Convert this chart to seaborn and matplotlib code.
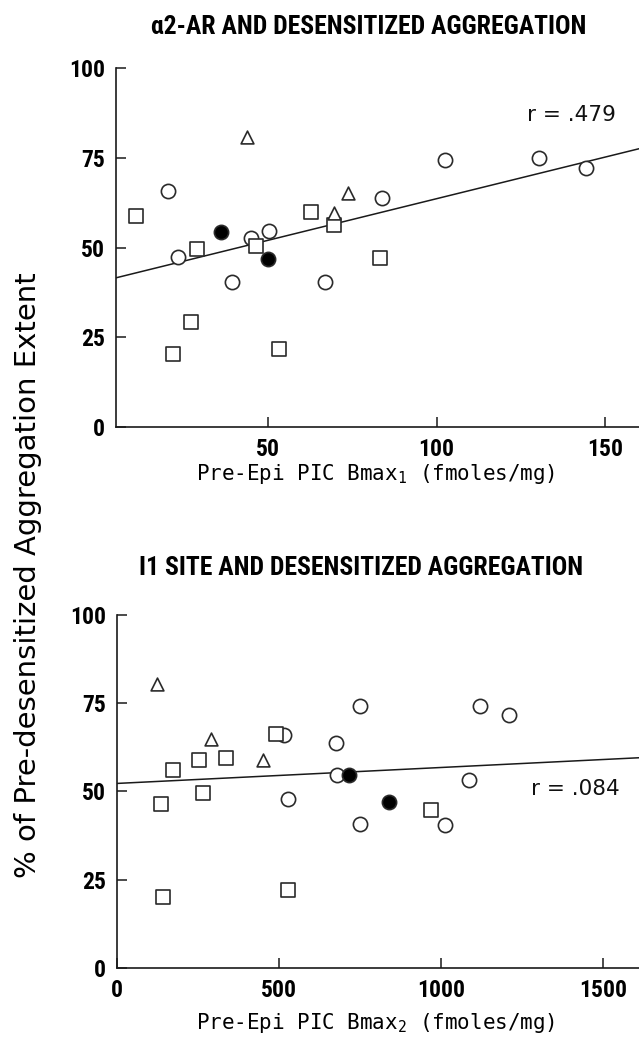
import numpy as np
import pandas as pd
import matplotlib
matplotlib.use("Agg")
import matplotlib.pyplot as plt
import seaborn as sns

# ── data ──────────────────────────────────────────────────────────────────────

# top panel: alpha2-AR Bmax1 (fmoles/mg) vs % aggregation
top_circle_x = [20.3, 23.5, 39.3, 44.9, 50.3, 67.0, 83.8, 102.4, 130.3, 144.3]
top_circle_y = [65.8, 47.5, 40.3, 52.6, 54.7, 40.3, 63.7, 74.4, 74.9, 72.1]
top_square_x = [10.8, 21.8, 27.3, 29.1, 46.6, 53.2, 62.7, 69.6, 83.2]
top_square_y = [58.9, 20.3, 29.2, 49.5, 50.3, 21.8, 59.9, 56.3, 47.2]
top_triangle_x = [43.9, 73.7, 69.6]
top_triangle_y = [80.8, 65.2, 59.6]
top_filled_x = [36.2, 50.1]
top_filled_y = [54.4, 46.9]
top_fit = (40.4, 0.232)   # intercept, slope
top_r = ".479"

# bottom panel: I1 site Bmax2 (fmoles/mg) vs % aggregation
bot_circle_x = [515.8, 526.4, 674.2, 679.5, 748.2, 748.2, 1010, 1084, 1117.8, 1209.6]
bot_circle_y = [66.1, 47.8, 63.6, 54.7, 74.3, 40.7, 40.5, 53.2, 74.3, 71.8]
bot_square_x = [135.7, 141, 172.6, 251.8, 264.5, 334.2, 489.4, 526.4, 967.8]
bot_square_y = [46.4, 20.0, 56.1, 58.9, 49.5, 59.5, 66.4, 21.9, 44.7]
bot_triangle_x = [122, 288.8, 449.3]
bot_triangle_y = [80.4, 64.9, 59.0]
bot_filled_x = [714.4, 837.9]
bot_filled_y = [54.7, 47.0]
bot_fit = (52.26, 0.00452)
bot_r = ".084"

y_ticks = [0, 25, 50, 75, 100]

# ── style ─────────────────────────────────────────────────────────────────────

sns.set_style("ticks")
plt.rcParams["font.family"] = ["DejaVu Sans"]
plt.rcParams["mathtext.default"] = "regular"
for key in ["text.color", "axes.labelcolor", "xtick.color", "ytick.color"]:
    plt.rcParams[key] = "black"

NARROW = ["Roboto Condensed", "DejaVu Sans"]
MONO = ["DejaVu Sans Mono", "DejaVu Sans"]
EDGE = "#2a2a2a"

fig = plt.figure(figsize=(6.39, 10.37), dpi=100)
ax_top = fig.add_axes([0.1815, 0.5882, 0.8185, 0.3462])
ax_bot = fig.add_axes([0.1836, 0.0668, 0.8164, 0.3401])


def make_frame(cx, cy, sx, sy, tx, ty, fx, fy):
    parts = [
        pd.DataFrame({"x": cx, "y": cy, "group": "circle"}),
        pd.DataFrame({"x": sx, "y": sy, "group": "square"}),
        pd.DataFrame({"x": tx, "y": ty, "group": "triangle"}),
        pd.DataFrame({"x": fx, "y": fy, "group": "filled"}),
    ]
    return pd.concat(parts, ignore_index=True)


group_style = {
    "circle":   dict(marker="o", color="white", s=105),
    "square":   dict(marker="s", color="white", s=95),
    "triangle": dict(marker="^", color="white", s=85),
    "filled":   dict(marker="o", color="black", s=105),
}


def draw_panel(ax, df, fit, r_text, xlim, xticks, r_pos):
    a, b = fit
    xs = np.array(xlim, dtype=float)
    sns.lineplot(x=xs, y=a + b * xs, ax=ax, color="#1a1a1a", lw=1.1, zorder=1)
    for name, st in group_style.items():
        sub = df[df["group"] == name]
        sns.scatterplot(data=sub, x="x", y="y", ax=ax, marker=st["marker"],
                        color=st["color"], edgecolor=EDGE, linewidth=1.2,
                        s=st["s"], zorder=3, legend=False)
    ax.set_xlim(*xlim)
    ax.set_ylim(0, 100)
    ax.set_xticks(xticks)
    ax.set_yticks(y_ticks)
    ax.set_xlabel("")
    ax.set_ylabel("")
    sns.despine(ax=ax)
    for side in ["left", "bottom"]:
        ax.spines[side].set_linewidth(1.2)
        ax.spines[side].set_color("#1a1a1a")
    ax.tick_params(direction="in", length=7, width=1.1, color="#1a1a1a")
    ax.tick_params(axis="x", pad=8)
    ax.tick_params(axis="y", pad=8)
    for lab in ax.get_xticklabels() + ax.get_yticklabels():
        lab.set_family(NARROW)
        lab.set_fontsize(17)
        lab.set_fontweight("bold")
    ax.text(r_pos[0], r_pos[1], "r = " + r_text, ha="right", va="center",
            family=["DejaVu Sans"], fontsize=15.5, color="#111111")


top_df = make_frame(top_circle_x, top_circle_y, top_square_x, top_square_y,
                    top_triangle_x, top_triangle_y, top_filled_x, top_filled_y)
bot_df = make_frame(bot_circle_x, bot_circle_y, bot_square_x, bot_square_y,
                    bot_triangle_x, bot_triangle_y, bot_filled_x, bot_filled_y)

draw_panel(ax_top, top_df, top_fit, top_r, (5, 160), [50, 100, 150], (153, 86.9))
draw_panel(ax_bot, bot_df, bot_fit, bot_r, (0, 1610), [0, 500, 1000, 1500], (1552, 50.6))

# titles and labels
fig.text(0.577, 0.9735, "α2-AR AND DESENSITIZED AGGREGATION", ha="center", va="center",
         family=NARROW, fontsize=18.5, fontweight="bold")
fig.text(0.565, 0.4527, "I1 SITE AND DESENSITIZED AGGREGATION", ha="center", va="center",
         family=NARROW, fontsize=18.5, fontweight="bold")
fig.text(0.588, 0.543, "Pre-Epi PIC Bmax$_1$ (fmoles/mg)", ha="center", va="center",
         family=MONO, fontsize=15)
fig.text(0.588, 0.0135, "Pre-Epi PIC Bmax$_2$ (fmoles/mg)", ha="center", va="center",
         family=MONO, fontsize=15)
fig.text(0.044, 0.4455, "% of Pre-desensitized Aggregation Extent", rotation=90,
         ha="center", va="center", family=["DejaVu Sans"], fontsize=21)

fig.savefig("out.png", dpi=100, facecolor="white")
